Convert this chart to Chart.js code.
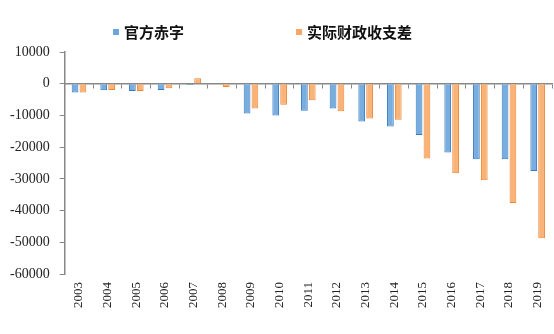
<!DOCTYPE html>
<html>
<head>
<meta charset="utf-8">
<script src="https://cdn.jsdelivr.net/npm/chart.js@4"></script>
<style>
html,body{margin:0;padding:0;background:#fff;}
#wrap{width:554px;height:334px;}
</style>
</head>
<body>
<div id="wrap"><canvas id="c" width="554" height="334"></canvas></div>
<script>
const categories = ['2003','2004','2005','2006','2007','2008','2009','2010','2011','2012','2013','2014','2015','2016','2017','2018','2019'];
const officialDeficit = [-2800,-2100,-2300,-2000,-400,0,-9400,-10000,-8500,-7800,-11900,-13500,-16200,-21700,-23800,-23800,-27500];
const actualGap = [-2800,-2000,-2300,-1450,1700,-1000,-7800,-6600,-5200,-8700,-11000,-11400,-23600,-28200,-30400,-37600,-48700];
const seriesNames = ['官方赤字','实际财政收支差'];
const yTicks = [10000,0,-10000,-20000,-30000,-40000,-50000,-60000];

const legendPlugin = {
  id: 'customLegend',
  afterDraw(chart) {
    const ctx = chart.ctx;
    const items = [
      {x: 113, color: '#6fa5dc', text: seriesNames[0]},
      {x: 296, color: '#f7a765', text: seriesNames[1]}
    ];
    ctx.save();
    ctx.font = 'bold 15px "Noto Sans CJK SC"';
    ctx.textBaseline = 'middle';
    items.forEach(it => {
      ctx.fillStyle = it.color;
      ctx.fillRect(it.x, 29, 6, 6);
      ctx.fillStyle = '#111';
      ctx.fillText(it.text, it.x + 11, 32);
    });
    ctx.restore();
  }
};

new Chart(document.getElementById('c'), {
  type: 'bar',
  data: {
    labels: categories,
    datasets: [
      {label: seriesNames[0], data: officialDeficit, backgroundColor: '#78ade0', borderColor: '#3479c2', borderWidth: 1, xAxisID: 'x', categoryPercentage: 0.55, barPercentage: 0.85},
      {label: seriesNames[1], data: actualGap, backgroundColor: '#f9b377', borderColor: '#ef8636', borderWidth: 1, xAxisID: 'x', categoryPercentage: 0.55, barPercentage: 0.85}
    ]
  },
  options: {
    responsive: false,
    animation: false,
    devicePixelRatio: 1,
    layout: {padding: {top: 52, left: 0, right: 2, bottom: 18}},
    plugins: {legend: {display: false}, tooltip: {enabled: false}},
    scales: {
      x: {
        type: 'category',
        position: {y: 0},
        ticks: {display: false},
        grid: {display: true, drawOnChartArea: false, drawTicks: true, tickLength: 4, color: '#888', offset: true},
        border: {display: true, color: '#888', width: 1.5},
        afterFit(axis) { axis.paddingLeft = 0; axis.paddingRight = 0; }
      },
      x2: {
        type: 'category',
        labels: categories,
        position: 'bottom',
        offset: true,
        grid: {display: false, drawTicks: false},
        border: {display: false},
        ticks: {minRotation: 90, maxRotation: 90, padding: 8, color: '#222', font: {family: 'Liberation Serif', size: 13}, autoSkip: false},
        afterFit(axis) { axis.paddingLeft = 0; axis.paddingRight = 0; }
      },
      y: {
        min: -60000,
        max: 10000,
        afterBuildTicks(axis) { axis.ticks = yTicks.map(v => ({value: v})); },
        grid: {display: true, drawOnChartArea: false, drawTicks: true, tickLength: 5, color: '#888'},
        border: {display: true, color: '#888', width: 1.5},
        ticks: {padding: 10, color: '#222', font: {family: 'Liberation Serif', size: 14}, callback: v => String(v)}
      }
    }
  },
  plugins: [legendPlugin]
});
</script>
</body>
</html>
